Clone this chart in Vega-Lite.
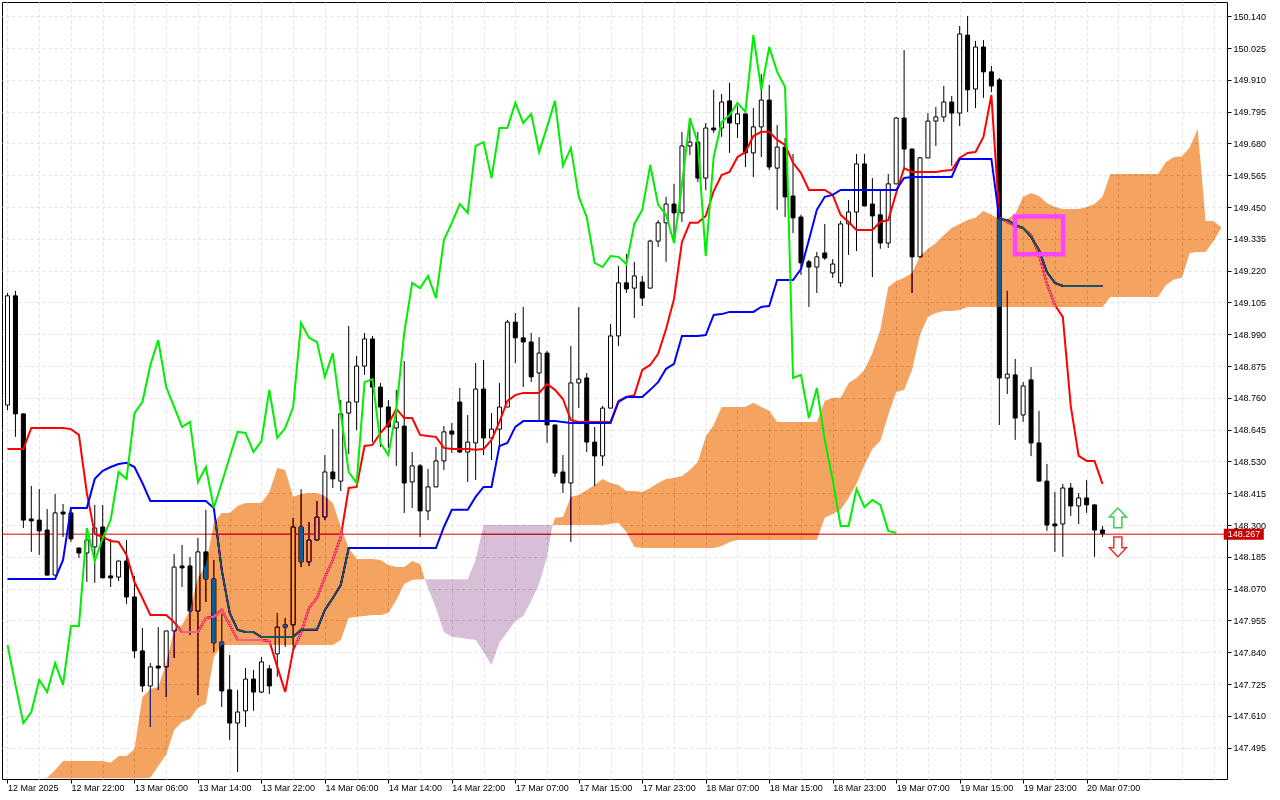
{
  "$schema": "https://vega.github.io/schema/vega-lite/v6.json",
  "width": 1225,
  "height": 777,
  "autosize": {"type": "none"},
  "padding": {"left": 2, "top": 2, "right": 53, "bottom": 21},
  "background": "white",
  "config": {
    "view": {"stroke": "#000000", "strokeWidth": 1, "fill": "white"},
    "axis": {
      "labelFont": "Liberation Sans",
      "labelFontSize": 9,
      "labelColor": "#000000",
      "tickColor": "#000000",
      "domain": false,
      "grid": true,
      "gridDash": [3, 3],
      "gridColor": "#e2e2e2",
      "gridWidth": 1,
      "labelOverlap": false,
      "labelBound": false,
      "labelFlush": false
    }
  },
  "datasets": {
    "bid": [{"price": 148.267}],
    "candles": [
      {"k":0,"o":148.734,"h":149.139,"l":148.716,"c":149.129},
      {"k":1,"o":149.129,"h":149.147,"l":148.619,"c":148.702},
      {"k":2,"o":148.702,"h":148.703,"l":148.289,"c":148.318},
      {"k":3,"o":148.322,"h":148.441,"l":148.203,"c":148.315},
      {"k":4,"o":148.318,"h":148.430,"l":148.192,"c":148.279},
      {"k":5,"o":148.282,"h":148.358,"l":148.118,"c":148.119},
      {"k":6,"o":148.119,"h":148.412,"l":148.118,"c":148.344},
      {"k":7,"o":148.347,"h":148.376,"l":148.257,"c":148.340},
      {"k":8,"o":148.344,"h":148.355,"l":148.239,"c":148.250},
      {"k":9,"o":148.217,"h":148.218,"l":148.181,"c":148.199},
      {"k":10,"o":148.199,"h":148.289,"l":148.094,"c":148.246},
      {"k":11,"o":148.221,"h":148.373,"l":148.091,"c":148.289},
      {"k":12,"o":148.293,"h":148.373,"l":148.108,"c":148.109},
      {"k":13,"o":148.116,"h":148.250,"l":148.076,"c":148.109},
      {"k":14,"o":148.112,"h":148.171,"l":148.098,"c":148.170},
      {"k":15,"o":148.170,"h":148.246,"l":148.015,"c":148.040},
      {"k":16,"o":148.040,"h":148.116,"l":147.819,"c":147.845},
      {"k":17,"o":147.845,"h":147.928,"l":147.696,"c":147.718},
      {"k":18,"o":147.718,"h":147.801,"l":147.570,"c":147.787},
      {"k":19,"o":147.790,"h":147.931,"l":147.704,"c":147.783},
      {"k":20,"o":147.787,"h":147.918,"l":147.678,"c":147.917},
      {"k":21,"o":147.917,"h":148.195,"l":147.819,"c":148.148},
      {"k":22,"o":148.152,"h":148.228,"l":148.076,"c":148.145},
      {"k":23,"o":148.152,"h":148.185,"l":147.902,"c":147.989},
      {"k":24,"o":147.989,"h":148.253,"l":147.685,"c":148.203},
      {"k":25,"o":148.203,"h":148.355,"l":148.022,"c":148.105},
      {"k":26,"o":148.105,"h":148.174,"l":147.841,"c":147.874},
      {"k":27,"o":147.877,"h":147.978,"l":147.642,"c":147.700},
      {"k":28,"o":147.704,"h":147.830,"l":147.523,"c":147.584},
      {"k":29,"o":147.584,"h":147.704,"l":147.407,"c":147.624},
      {"k":30,"o":147.628,"h":147.783,"l":147.570,"c":147.743},
      {"k":31,"o":147.743,"h":147.776,"l":147.628,"c":147.696},
      {"k":32,"o":147.696,"h":147.823,"l":147.693,"c":147.805},
      {"k":33,"o":147.780,"h":147.794,"l":147.689,"c":147.718},
      {"k":34,"o":147.834,"h":147.982,"l":147.751,"c":147.931},
      {"k":35,"o":147.939,"h":147.964,"l":147.859,"c":147.931},
      {"k":36,"o":147.939,"h":148.326,"l":147.848,"c":148.293},
      {"k":37,"o":148.293,"h":148.430,"l":148.148,"c":148.167},
      {"k":38,"o":148.167,"h":148.311,"l":148.152,"c":148.246},
      {"k":39,"o":148.246,"h":148.387,"l":148.245,"c":148.329},
      {"k":40,"o":148.329,"h":148.553,"l":148.318,"c":148.492},
      {"k":41,"o":148.492,"h":148.647,"l":148.434,"c":148.467},
      {"k":42,"o":148.459,"h":148.752,"l":148.423,"c":148.702},
      {"k":43,"o":148.705,"h":149.020,"l":148.557,"c":148.745},
      {"k":44,"o":148.745,"h":148.912,"l":148.644,"c":148.875},
      {"k":45,"o":148.875,"h":148.995,"l":148.843,"c":148.973},
      {"k":46,"o":148.973,"h":148.984,"l":148.600,"c":148.799},
      {"k":47,"o":148.799,"h":148.814,"l":148.582,"c":148.727},
      {"k":48,"o":148.727,"h":148.752,"l":148.579,"c":148.655},
      {"k":49,"o":148.651,"h":148.789,"l":148.514,"c":148.673},
      {"k":50,"o":148.658,"h":148.893,"l":148.344,"c":148.452},
      {"k":51,"o":148.456,"h":148.564,"l":148.362,"c":148.514},
      {"k":52,"o":148.514,"h":148.521,"l":148.257,"c":148.351},
      {"k":53,"o":148.351,"h":148.503,"l":148.318,"c":148.438},
      {"k":54,"o":148.438,"h":148.582,"l":148.437,"c":148.532},
      {"k":55,"o":148.532,"h":148.658,"l":148.499,"c":148.637},
      {"k":56,"o":148.640,"h":148.669,"l":148.561,"c":148.629},
      {"k":57,"o":148.745,"h":148.796,"l":148.563,"c":148.564},
      {"k":58,"o":148.564,"h":148.698,"l":148.456,"c":148.600},
      {"k":59,"o":148.597,"h":148.886,"l":148.463,"c":148.792},
      {"k":60,"o":148.792,"h":148.897,"l":148.553,"c":148.615},
      {"k":61,"o":148.615,"h":148.705,"l":148.535,"c":148.647},
      {"k":62,"o":148.647,"h":148.814,"l":148.582,"c":148.727},
      {"k":63,"o":148.727,"h":149.042,"l":148.726,"c":149.034},
      {"k":64,"o":149.034,"h":149.067,"l":148.886,"c":148.977},
      {"k":65,"o":148.977,"h":149.089,"l":148.799,"c":148.962},
      {"k":66,"o":148.962,"h":148.995,"l":148.817,"c":148.836},
      {"k":67,"o":148.850,"h":148.980,"l":148.673,"c":148.922},
      {"k":68,"o":148.922,"h":148.930,"l":148.597,"c":148.662},
      {"k":69,"o":148.662,"h":148.663,"l":148.474,"c":148.488},
      {"k":70,"o":148.492,"h":148.553,"l":148.416,"c":148.452},
      {"k":71,"o":148.452,"h":148.948,"l":148.239,"c":148.814},
      {"k":72,"o":148.814,"h":149.089,"l":148.723,"c":148.828},
      {"k":73,"o":148.832,"h":148.850,"l":148.564,"c":148.600},
      {"k":74,"o":148.600,"h":148.655,"l":148.441,"c":148.550},
      {"k":75,"o":148.550,"h":148.731,"l":148.514,"c":148.723},
      {"k":76,"o":148.723,"h":149.027,"l":148.722,"c":148.984},
      {"k":77,"o":148.984,"h":149.237,"l":148.948,"c":149.176},
      {"k":78,"o":149.176,"h":149.280,"l":149.139,"c":149.154},
      {"k":79,"o":149.157,"h":149.252,"l":149.049,"c":149.201},
      {"k":80,"o":149.179,"h":149.201,"l":149.092,"c":149.121},
      {"k":81,"o":149.157,"h":149.331,"l":149.156,"c":149.327},
      {"k":82,"o":149.327,"h":149.403,"l":149.306,"c":149.393},
      {"k":83,"o":149.393,"h":149.487,"l":149.252,"c":149.461},
      {"k":84,"o":149.461,"h":149.534,"l":149.320,"c":149.429},
      {"k":85,"o":149.429,"h":149.722,"l":149.396,"c":149.671},
      {"k":86,"o":149.671,"h":149.772,"l":149.638,"c":149.685},
      {"k":87,"o":149.685,"h":149.722,"l":149.541,"c":149.555},
      {"k":88,"o":149.555,"h":149.754,"l":149.512,"c":149.736},
      {"k":89,"o":149.736,"h":149.874,"l":149.718,"c":149.729},
      {"k":90,"o":149.736,"h":149.859,"l":149.704,"c":149.830},
      {"k":91,"o":149.834,"h":149.899,"l":149.646,"c":149.754},
      {"k":92,"o":149.751,"h":149.816,"l":149.700,"c":149.787},
      {"k":93,"o":149.787,"h":149.788,"l":149.595,"c":149.646},
      {"k":94,"o":149.646,"h":149.808,"l":149.559,"c":149.740},
      {"k":95,"o":149.740,"h":149.931,"l":149.631,"c":149.837},
      {"k":96,"o":149.837,"h":149.892,"l":149.584,"c":149.595},
      {"k":97,"o":149.591,"h":149.747,"l":149.440,"c":149.667},
      {"k":98,"o":149.667,"h":149.700,"l":149.414,"c":149.487},
      {"k":99,"o":149.490,"h":149.642,"l":149.356,"c":149.411},
      {"k":100,"o":149.414,"h":149.422,"l":149.205,"c":149.248},
      {"k":101,"o":149.252,"h":149.259,"l":149.089,"c":149.233},
      {"k":102,"o":149.233,"h":149.288,"l":149.139,"c":149.270},
      {"k":103,"o":149.284,"h":149.389,"l":149.259,"c":149.266},
      {"k":104,"o":149.212,"h":149.262,"l":149.194,"c":149.244},
      {"k":105,"o":149.176,"h":149.400,"l":149.161,"c":149.389},
      {"k":106,"o":149.389,"h":149.476,"l":149.277,"c":149.432},
      {"k":107,"o":149.432,"h":149.642,"l":149.291,"c":149.606},
      {"k":108,"o":149.606,"h":149.642,"l":149.453,"c":149.454},
      {"k":109,"o":149.461,"h":149.555,"l":149.197,"c":149.418},
      {"k":110,"o":149.422,"h":149.512,"l":149.299,"c":149.320},
      {"k":111,"o":149.320,"h":149.570,"l":149.302,"c":149.534},
      {"k":112,"o":149.534,"h":149.776,"l":149.533,"c":149.772},
      {"k":113,"o":149.772,"h":150.018,"l":149.584,"c":149.660},
      {"k":114,"o":149.660,"h":149.661,"l":149.139,"c":149.270},
      {"k":115,"o":149.270,"h":149.631,"l":149.269,"c":149.628},
      {"k":116,"o":149.628,"h":149.790,"l":149.627,"c":149.761},
      {"k":117,"o":149.761,"h":149.812,"l":149.671,"c":149.776},
      {"k":118,"o":149.776,"h":149.888,"l":149.758,"c":149.830},
      {"k":119,"o":149.830,"h":149.852,"l":149.599,"c":149.790},
      {"k":120,"o":149.790,"h":150.105,"l":149.743,"c":150.076},
      {"k":121,"o":150.072,"h":150.141,"l":149.794,"c":149.874},
      {"k":122,"o":149.877,"h":150.051,"l":149.808,"c":150.029},
      {"k":123,"o":150.029,"h":150.054,"l":149.845,"c":149.939},
      {"k":124,"o":149.939,"h":149.960,"l":149.866,"c":149.888},
      {"k":125,"o":149.910,"h":149.917,"l":148.662,"c":148.832},
      {"k":126,"o":148.832,"h":149.147,"l":148.774,"c":148.846},
      {"k":127,"o":148.843,"h":148.901,"l":148.608,"c":148.687},
      {"k":128,"o":148.698,"h":148.817,"l":148.673,"c":148.803},
      {"k":129,"o":148.825,"h":148.872,"l":148.550,"c":148.597},
      {"k":130,"o":148.597,"h":148.713,"l":148.458,"c":148.459},
      {"k":131,"o":148.459,"h":148.521,"l":148.279,"c":148.300},
      {"k":132,"o":148.304,"h":148.420,"l":148.203,"c":148.297},
      {"k":133,"o":148.304,"h":148.449,"l":148.185,"c":148.434},
      {"k":134,"o":148.434,"h":148.452,"l":148.333,"c":148.369},
      {"k":135,"o":148.369,"h":148.416,"l":148.304,"c":148.398},
      {"k":136,"o":148.398,"h":148.463,"l":148.344,"c":148.373},
      {"k":137,"o":148.373,"h":148.374,"l":148.185,"c":148.282},
      {"k":138,"o":148.282,"h":148.297,"l":148.257,"c":148.270}
    ],
    "ichi": [
      {"k":0,"t":148.575,"j":148.105},{"k":1,"t":148.575,"j":148.105},{"k":2,"t":148.575,"j":148.105},
      {"k":3,"t":148.651,"j":148.105},{"k":4,"t":148.651,"j":148.105},{"k":5,"t":148.651,"j":148.105},
      {"k":6,"t":148.651,"j":148.105},{"k":7,"t":148.651,"j":148.174},{"k":8,"t":148.647,"j":148.362},
      {"k":9,"t":148.626,"j":148.362},{"k":10,"t":148.416,"j":148.362},{"k":11,"t":148.268,"j":148.467},
      {"k":12,"t":148.257,"j":148.496},{"k":13,"t":148.242,"j":148.510},{"k":14,"t":148.239,"j":148.521},
      {"k":15,"t":148.192,"j":148.525},{"k":16,"t":148.094,"j":148.510},{"k":17,"t":148.036,"j":148.452},
      {"k":18,"t":147.975,"j":148.387},{"k":19,"t":147.975,"j":148.387},{"k":20,"t":147.975,"j":148.387},
      {"k":21,"t":147.949,"j":148.387},{"k":22,"t":147.913,"j":148.387},{"k":23,"t":147.913,"j":148.387},
      {"k":24,"t":147.913,"j":148.387},{"k":25,"t":147.964,"j":148.387},{"k":26,"t":147.968,"j":148.362},
      {"k":27,"t":147.993,"j":148.138},{"k":28,"t":147.939,"j":147.982},{"k":29,"t":147.884,"j":147.921},
      {"k":30,"t":147.884,"j":147.913},{"k":31,"t":147.884,"j":147.913},{"k":32,"t":147.884,"j":147.895},
      {"k":33,"t":147.881,"j":147.895},{"k":34,"t":147.787,"j":147.895},{"k":35,"t":147.696,"j":147.895},
      {"k":36,"t":147.848,"j":147.895},{"k":37,"t":147.910,"j":147.921},{"k":38,"t":148.000,"j":147.921},
      {"k":39,"t":148.036,"j":147.921},{"k":40,"t":148.112,"j":147.993},{"k":41,"t":148.174,"j":148.036},
      {"k":42,"t":148.257,"j":148.083},{"k":43,"t":148.434,"j":148.217},{"k":44,"t":148.438,"j":148.217},
      {"k":45,"t":148.586,"j":148.217},{"k":46,"t":148.590,"j":148.217},{"k":47,"t":148.633,"j":148.217},
      {"k":48,"t":148.666,"j":148.217},{"k":49,"t":148.720,"j":148.217},{"k":50,"t":148.687,"j":148.217},
      {"k":51,"t":148.687,"j":148.217},{"k":52,"t":148.626,"j":148.217},{"k":53,"t":148.622,"j":148.217},
      {"k":54,"t":148.619,"j":148.217},{"k":55,"t":148.579,"j":148.293},{"k":56,"t":148.575,"j":148.355},
      {"k":57,"t":148.575,"j":148.355},{"k":58,"t":148.575,"j":148.355},{"k":59,"t":148.572,"j":148.402},
      {"k":60,"t":148.575,"j":148.438},{"k":61,"t":148.608,"j":148.438},{"k":62,"t":148.673,"j":148.586},
      {"k":63,"t":148.749,"j":148.597},{"k":64,"t":148.770,"j":148.655},{"k":65,"t":148.778,"j":148.676},
      {"k":66,"t":148.778,"j":148.676},{"k":67,"t":148.778,"j":148.676},{"k":68,"t":148.810,"j":148.676},
      {"k":69,"t":148.789,"j":148.676},{"k":70,"t":148.756,"j":148.673},{"k":71,"t":148.680,"j":148.669},
      {"k":72,"t":148.673,"j":148.669},{"k":73,"t":148.673,"j":148.669},{"k":74,"t":148.673,"j":148.669},
      {"k":75,"t":148.673,"j":148.669},{"k":76,"t":148.673,"j":148.669},{"k":77,"t":148.749,"j":148.745},
      {"k":78,"t":148.763,"j":148.763},{"k":79,"t":148.770,"j":148.763},{"k":80,"t":148.861,"j":148.763},
      {"k":81,"t":148.879,"j":148.789},{"k":82,"t":148.919,"j":148.817},{"k":83,"t":149.009,"j":148.865},
      {"k":84,"t":149.118,"j":148.883},{"k":85,"t":149.324,"j":148.984},{"k":86,"t":149.393,"j":148.984},
      {"k":87,"t":149.393,"j":148.984},{"k":88,"t":149.418,"j":148.987},{"k":89,"t":149.508,"j":149.060},
      {"k":90,"t":149.566,"j":149.063},{"k":91,"t":149.577,"j":149.071},{"k":92,"t":149.631,"j":149.071},
      {"k":93,"t":149.649,"j":149.071},{"k":94,"t":149.707,"j":149.071},{"k":95,"t":149.722,"j":149.089},
      {"k":96,"t":149.722,"j":149.092},{"k":97,"t":149.693,"j":149.186},{"k":98,"t":149.675,"j":149.186},
      {"k":99,"t":149.610,"j":149.186},{"k":100,"t":149.573,"j":149.226},{"k":101,"t":149.512,"j":149.331},
      {"k":102,"t":149.512,"j":149.440},{"k":103,"t":149.512,"j":149.487},{"k":104,"t":149.494,"j":149.494},
      {"k":105,"t":149.422,"j":149.512},{"k":106,"t":149.396,"j":149.512},{"k":107,"t":149.367,"j":149.512},
      {"k":108,"t":149.367,"j":149.512},{"k":109,"t":149.367,"j":149.512},{"k":110,"t":149.396,"j":149.512},
      {"k":111,"t":149.403,"j":149.512},{"k":112,"t":149.501,"j":149.512},{"k":113,"t":149.591,"j":149.555},
      {"k":114,"t":149.577,"j":149.559},{"k":115,"t":149.577,"j":149.559},{"k":116,"t":149.577,"j":149.559},
      {"k":117,"t":149.577,"j":149.559},{"k":118,"t":149.581,"j":149.559},{"k":119,"t":149.584,"j":149.559},
      {"k":120,"t":149.628,"j":149.624},{"k":121,"t":149.646,"j":149.624},{"k":122,"t":149.649,"j":149.624},
      {"k":123,"t":149.704,"j":149.624},{"k":124,"t":149.855,"j":149.624},{"k":125,"t":149.414,"j":149.407},
      {"k":126,"t":149.396,"j":149.403},{"k":127,"t":149.382,"j":149.385},{"k":128,"t":149.374,"j":149.374},
      {"k":129,"t":149.349,"j":149.342},{"k":130,"t":149.277,"j":149.295},{"k":131,"t":149.172,"j":149.215},
      {"k":132,"t":149.096,"j":149.176},{"k":133,"t":149.053,"j":149.165},{"k":134,"t":148.731,"j":149.165},
      {"k":135,"t":148.550,"j":149.165},{"k":136,"t":148.532,"j":149.165},{"k":137,"t":148.532,"j":149.165},
      {"k":138,"t":148.449,"j":149.165}
    ],
    "chikou": [
      {"k":0,"v":147.866},{"k":1,"v":147.722},{"k":2,"v":147.584},{"k":3,"v":147.624},{"k":4,"v":147.740},
      {"k":5,"v":147.696},{"k":6,"v":147.801},{"k":7,"v":147.722},{"k":8,"v":147.935},{"k":9,"v":147.935},
      {"k":10,"v":148.289},{"k":11,"v":148.170},{"k":12,"v":148.253},{"k":13,"v":148.318},{"k":14,"v":148.492},
      {"k":15,"v":148.467},{"k":16,"v":148.705},{"k":17,"v":148.745},{"k":18,"v":148.879},{"k":19,"v":148.969},
      {"k":20,"v":148.799},{"k":21,"v":148.727},{"k":22,"v":148.655},{"k":23,"v":148.673},{"k":24,"v":148.456},
      {"k":25,"v":148.510},{"k":26,"v":148.362},{"k":27,"v":148.452},{"k":28,"v":148.546},{"k":29,"v":148.637},
      {"k":30,"v":148.633},{"k":31,"v":148.564},{"k":32,"v":148.604},{"k":33,"v":148.789},{"k":34,"v":148.615},
      {"k":35,"v":148.651},{"k":36,"v":148.727},{"k":37,"v":149.031},{"k":38,"v":148.977},{"k":39,"v":148.962},
      {"k":40,"v":148.836},{"k":41,"v":148.922},{"k":42,"v":148.705},{"k":43,"v":148.492},{"k":44,"v":148.452},
      {"k":45,"v":148.817},{"k":46,"v":148.828},{"k":47,"v":148.597},{"k":48,"v":148.553},{"k":49,"v":148.716},
      {"k":50,"v":148.995},{"k":51,"v":149.176},{"k":52,"v":149.157},{"k":53,"v":149.201},{"k":54,"v":149.121},
      {"k":55,"v":149.331},{"k":56,"v":149.393},{"k":57,"v":149.461},{"k":58,"v":149.429},{"k":59,"v":149.671},
      {"k":60,"v":149.685},{"k":61,"v":149.555},{"k":62,"v":149.736},{"k":63,"v":149.736},{"k":64,"v":149.827},
      {"k":65,"v":149.754},{"k":66,"v":149.787},{"k":67,"v":149.649},{"k":68,"v":149.740},{"k":69,"v":149.834},
      {"k":70,"v":149.599},{"k":71,"v":149.664},{"k":72,"v":149.487},{"k":73,"v":149.414},{"k":74,"v":149.248},
      {"k":75,"v":149.233},{"k":76,"v":149.273},{"k":77,"v":149.270},{"k":78,"v":149.244},{"k":79,"v":149.389},
      {"k":80,"v":149.440},{"k":81,"v":149.602},{"k":82,"v":149.458},{"k":83,"v":149.422},{"k":84,"v":149.320},
      {"k":85,"v":149.530},{"k":86,"v":149.772},{"k":87,"v":149.682},{"k":88,"v":149.273},{"k":89,"v":149.631},
      {"k":90,"v":149.758},{"k":91,"v":149.783},{"k":92,"v":149.827},{"k":93,"v":149.794},{"k":94,"v":150.072},
      {"k":95,"v":149.874},{"k":96,"v":150.029},{"k":97,"v":149.939},{"k":98,"v":149.884},{"k":99,"v":148.832},
      {"k":100,"v":148.843},{"k":101,"v":148.687},{"k":102,"v":148.796},{"k":103,"v":148.608},{"k":104,"v":148.463},
      {"k":105,"v":148.297},{"k":106,"v":148.297},{"k":107,"v":148.430},{"k":108,"v":148.365},{"k":109,"v":148.391},
      {"k":110,"v":148.373},{"k":111,"v":148.279},{"k":112,"v":148.271}
    ],
    "cloud": [
      {"k":0,"a":147.384,"b":147.384},{"k":1,"a":147.384,"b":147.384},{"k":2,"a":147.384,"b":147.384},
      {"k":3,"a":147.384,"b":147.384},{"k":4,"a":147.384,"b":147.384},{"k":5,"a":147.386,"b":147.384},
      {"k":6,"a":147.414,"b":147.384},{"k":7,"a":147.447,"b":147.384},{"k":8,"a":147.447,"b":147.384},
      {"k":9,"a":147.447,"b":147.384},{"k":10,"a":147.447,"b":147.384},{"k":11,"a":147.447,"b":147.384},
      {"k":12,"a":147.447,"b":147.384},{"k":13,"a":147.440,"b":147.384},{"k":14,"a":147.465,"b":147.384},
      {"k":15,"a":147.465,"b":147.384},{"k":16,"a":147.490,"b":147.384},{"k":17,"a":147.678,"b":147.384},
      {"k":18,"a":147.707,"b":147.386},{"k":19,"a":147.714,"b":147.429},{"k":20,"a":147.801,"b":147.469},
      {"k":21,"a":147.921,"b":147.559},{"k":22,"a":147.939,"b":147.588},{"k":23,"a":147.993,"b":147.599},
      {"k":24,"a":148.109,"b":147.639},{"k":25,"a":148.156,"b":147.653},{"k":26,"a":148.308,"b":147.823},
      {"k":27,"a":148.344,"b":147.866},{"k":28,"a":148.344,"b":147.866},{"k":29,"a":148.369,"b":147.866},
      {"k":30,"a":148.380,"b":147.866},{"k":31,"a":148.380,"b":147.866},{"k":32,"a":148.380,"b":147.866},
      {"k":33,"a":148.420,"b":147.866},{"k":34,"a":148.506,"b":147.866},{"k":35,"a":148.499,"b":147.866},
      {"k":36,"a":148.402,"b":147.866},{"k":37,"a":148.412,"b":147.866},{"k":38,"a":148.416,"b":147.866},
      {"k":39,"a":148.416,"b":147.866},{"k":40,"a":148.405,"b":147.866},{"k":41,"a":148.380,"b":147.866},
      {"k":42,"a":148.293,"b":147.884},{"k":43,"a":148.217,"b":147.964},{"k":44,"a":148.177,"b":147.968},
      {"k":45,"a":148.177,"b":147.971},{"k":46,"a":148.177,"b":147.975},{"k":47,"a":148.174,"b":147.975},
      {"k":48,"a":148.156,"b":147.982},{"k":49,"a":148.148,"b":148.029},{"k":50,"a":148.148,"b":148.087},
      {"k":51,"a":148.170,"b":148.101},{"k":52,"a":148.159,"b":148.104},{"k":52.6,"a":148.104,"b":148.104},
      {"k":53,"a":148.072,"b":148.104},{"k":54,"a":148.000,"b":148.104},{"k":55,"a":147.913,"b":148.104},
      {"k":56,"a":147.895,"b":148.104},{"k":57,"a":147.892,"b":148.104},{"k":58,"a":147.888,"b":148.104},
      {"k":59,"a":147.884,"b":148.174},{"k":60,"a":147.841,"b":148.300},{"k":61,"a":147.794,"b":148.300},
      {"k":62,"a":147.874,"b":148.300},{"k":63,"a":147.913,"b":148.300},{"k":64,"a":147.953,"b":148.300},
      {"k":65,"a":147.971,"b":148.300},{"k":66,"a":148.025,"b":148.300},{"k":67,"a":148.087,"b":148.300},
      {"k":68,"a":148.185,"b":148.300},{"k":68.7,"a":148.300,"b":148.300},
      {"k":69,"a":148.326,"b":148.300},{"k":70,"a":148.329,"b":148.300},{"k":71,"a":148.402,"b":148.300},
      {"k":72,"a":148.409,"b":148.300},{"k":73,"a":148.427,"b":148.300},{"k":74,"a":148.445,"b":148.300},
      {"k":75,"a":148.467,"b":148.300},{"k":76,"a":148.452,"b":148.304},{"k":77,"a":148.445,"b":148.308},
      {"k":78,"a":148.423,"b":148.275},{"k":79,"a":148.423,"b":148.221},{"k":80,"a":148.420,"b":148.217},
      {"k":81,"a":148.434,"b":148.217},{"k":82,"a":148.452,"b":148.217},{"k":83,"a":148.467,"b":148.217},
      {"k":84,"a":148.470,"b":148.217},{"k":85,"a":148.477,"b":148.217},{"k":86,"a":148.499,"b":148.217},
      {"k":87,"a":148.528,"b":148.217},{"k":88,"a":148.619,"b":148.217},{"k":89,"a":148.662,"b":148.217},
      {"k":90,"a":148.727,"b":148.224},{"k":91,"a":148.727,"b":148.239},{"k":92,"a":148.727,"b":148.246},
      {"k":93,"a":148.727,"b":148.246},{"k":94,"a":148.742,"b":148.246},{"k":95,"a":148.727,"b":148.246},
      {"k":96,"a":148.713,"b":148.246},{"k":97,"a":148.673,"b":148.246},{"k":98,"a":148.673,"b":148.246},
      {"k":99,"a":148.673,"b":148.246},{"k":100,"a":148.673,"b":148.246},{"k":101,"a":148.673,"b":148.246},
      {"k":102,"a":148.673,"b":148.246},{"k":103,"a":148.749,"b":148.326},{"k":104,"a":148.760,"b":148.340},
      {"k":105,"a":148.760,"b":148.355},{"k":106,"a":148.814,"b":148.398},{"k":107,"a":148.832,"b":148.449},
      {"k":108,"a":148.861,"b":148.517},{"k":109,"a":148.922,"b":148.575},{"k":110,"a":149.006,"b":148.604},
      {"k":111,"a":149.161,"b":148.698},{"k":112,"a":149.183,"b":148.781},{"k":113,"a":149.194,"b":148.789},
      {"k":114,"a":149.212,"b":148.861},{"k":115,"a":149.273,"b":148.987},{"k":116,"a":149.299,"b":149.053},
      {"k":117,"a":149.320,"b":149.067},{"k":118,"a":149.349,"b":149.074},{"k":119,"a":149.374,"b":149.074},
      {"k":120,"a":149.389,"b":149.078},{"k":121,"a":149.403,"b":149.089},{"k":122,"a":149.411,"b":149.089},
      {"k":123,"a":149.436,"b":149.089},{"k":124,"a":149.422,"b":149.089},{"k":125,"a":149.407,"b":149.089},
      {"k":126,"a":149.407,"b":149.089},{"k":127,"a":149.425,"b":149.089},{"k":128,"a":149.487,"b":149.089},
      {"k":129,"a":149.501,"b":149.089},{"k":130,"a":149.490,"b":149.089},{"k":131,"a":149.465,"b":149.089},
      {"k":132,"a":149.450,"b":149.089},{"k":133,"a":149.443,"b":149.089},{"k":134,"a":149.443,"b":149.089},
      {"k":135,"a":149.443,"b":149.089},{"k":136,"a":149.450,"b":149.089},{"k":137,"a":149.461,"b":149.089},
      {"k":138,"a":149.487,"b":149.089},{"k":139,"a":149.570,"b":149.125},{"k":140,"a":149.570,"b":149.125},
      {"k":141,"a":149.570,"b":149.125},{"k":142,"a":149.570,"b":149.125},{"k":143,"a":149.570,"b":149.125},
      {"k":144,"a":149.570,"b":149.125},{"k":145,"a":149.570,"b":149.125},{"k":146,"a":149.613,"b":149.168},
      {"k":147,"a":149.631,"b":149.188},{"k":148,"a":149.633,"b":149.194},{"k":149,"a":149.666,"b":149.284},
      {"k":150,"a":149.732,"b":149.288},{"k":151,"a":149.400,"b":149.288},{"k":152,"a":149.400,"b":149.327},
      {"k":153,"a":149.376,"b":149.376}
    ],
    "box": [{"k1": 126.97, "k2": 133.03, "p1": 149.4155, "p2": 149.2795}],
    "arrows": [
      {"k": 139.94, "price": 148.326, "dir": "up"},
      {"k": 139.94, "price": 148.221, "dir": "down"}
    ],
    "tag": [{"k": 155.81, "kt": 153.78, "price": 148.267}]
  },
  "layer": [
    {
      "data": {"name": "bid"},
      "mark": {"type": "rule", "color": "#dd0000", "strokeWidth": 1},
      "encoding": {
        "y": {
          "field": "price",
          "type": "quantitative",
          "title": null,
          "scale": {"domain": [147.3816, 150.1917], "nice": false, "zero": false},
          "axis": {
            "orient": "right",
            "values": [147.495,147.61,147.725,147.84,147.955,148.07,148.185,148.3,148.415,148.53,148.645,148.76,148.875,148.99,149.105,149.22,149.335,149.45,149.565,149.68,149.795,149.91,150.025,150.14],
            "tickCount": 200,
            "format": ".3f",
            "tickSize": 4,
            "labelPadding": 2,
            "labelOverlap": false,
            "labelBound": false,
            "labelFlush": false
          }
        }
      }
    },
    {
      "data": {"name": "candles"},
      "mark": {"type": "rule", "color": "#000000", "strokeWidth": 1},
      "encoding": {
        "x": {
          "field": "k",
          "type": "quantitative",
          "title": null,
          "scale": {"domain": [-0.0625, 153.0625], "nice": false, "zero": false},
          "axis": {
            "orient": "bottom",
            "values": [0,4,8,12,16,20,24,28,32,36,40,44,48,52,56,60,64,68,72,76,80,84,88,92,96,100,104,108,112,116,120,124,128,132,136,140,144,148,152],
            "tickCount": 200,
            "labelExpr": "(datum.value % 8 == 0 && datum.value <= 136) ? ['12 Mar 2025','12 Mar 22:00','13 Mar 06:00','13 Mar 14:00','13 Mar 22:00','14 Mar 06:00','14 Mar 14:00','14 Mar 22:00','17 Mar 07:00','17 Mar 15:00','17 Mar 23:00','18 Mar 07:00','18 Mar 15:00','18 Mar 23:00','19 Mar 07:00','19 Mar 15:00','19 Mar 23:00','20 Mar 07:00'][datum.value / 8] : ''",
            "labelAlign": "left",
            "labelBaseline": "top",
            "labelDx": 0,
            "labelPadding": 0,
            "labelOverlap": false,
            "labelBound": false,
            "labelFlush": false,
            "tickSize": 4,
            "tickOpacity": {"condition": {"test": "datum.value % 8 == 0 && datum.value <= 136", "value": 1}, "value": 0}
          }
        },
        "y": {"field": "h", "type": "quantitative", "title": null},
        "y2": {"field": "l"}
      }
    },
    {
      "data": {"name": "candles"},
      "mark": {"type": "bar", "size": 4, "stroke": "#000000", "strokeWidth": 1},
      "encoding": {
        "x": {"field": "k", "type": "quantitative", "title": null},
        "y": {"field": "o", "type": "quantitative", "title": null},
        "y2": {"field": "c"},
        "fill": {"condition": {"test": "datum.c > datum.o", "value": "#ffffff"}, "value": "#000000"}
      }
    },
    {
      "data": {"name": "ichi"},
      "mark": {"type": "line", "color": "#ff0000", "strokeWidth": 2},
      "encoding": {
        "x": {"field": "k", "type": "quantitative", "title": null},
        "y": {"field": "t", "type": "quantitative", "title": null}
      }
    },
    {
      "data": {"name": "ichi"},
      "mark": {"type": "line", "color": "#0000ff", "strokeWidth": 2},
      "encoding": {
        "x": {"field": "k", "type": "quantitative", "title": null},
        "y": {"field": "j", "type": "quantitative", "title": null}
      }
    },
    {
      "data": {"name": "cloud"},
      "transform": [{"filter": {"field": "k", "range": [0, 52.6]}}],
      "mark": {"type": "area", "color": "#0b5b9f", "blend": "difference"},
      "encoding": {
        "x": {"field": "k", "type": "quantitative", "title": null},
        "y": {"field": "a", "type": "quantitative", "title": null},
        "y2": {"field": "b"}
      }
    },
    {
      "data": {"name": "cloud"},
      "transform": [{"filter": {"field": "k", "range": [52.6, 68.7]}}],
      "mark": {"type": "area", "color": "#274027", "blend": "difference"},
      "encoding": {
        "x": {"field": "k", "type": "quantitative", "title": null},
        "y": {"field": "a", "type": "quantitative", "title": null},
        "y2": {"field": "b"}
      }
    },
    {
      "data": {"name": "cloud"},
      "transform": [{"filter": {"field": "k", "range": [68.7, 153]}}],
      "mark": {"type": "area", "color": "#0b5b9f", "blend": "difference"},
      "encoding": {
        "x": {"field": "k", "type": "quantitative", "title": null},
        "y": {"field": "a", "type": "quantitative", "title": null},
        "y2": {"field": "b"}
      }
    },
    {
      "data": {"name": "chikou"},
      "mark": {"type": "line", "color": "#00ee00", "strokeWidth": 2},
      "encoding": {
        "x": {"field": "k", "type": "quantitative", "title": null},
        "y": {"field": "v", "type": "quantitative", "title": null}
      }
    },
    {
      "data": {"name": "box"},
      "mark": {"type": "rect", "filled": false, "stroke": "#ff44ff", "strokeWidth": 4.5},
      "encoding": {
        "x": {"field": "k1", "type": "quantitative", "title": null},
        "x2": {"field": "k2"},
        "y": {"field": "p1", "type": "quantitative", "title": null},
        "y2": {"field": "p2"}
      }
    },
    {
      "data": {"name": "arrows"},
      "mark": {"type": "point", "filled": true, "fill": "#ffffff", "size": 324, "strokeWidth": 1.5, "opacity": 1},
      "encoding": {
        "x": {"field": "k", "type": "quantitative", "title": null},
        "y": {"field": "price", "type": "quantitative", "title": null},
        "shape": {
          "field": "dir",
          "type": "nominal",
          "scale": {
            "domain": ["up", "down"],
            "range": [
              "M0,-1.1L0.95,-0.1L0.45,-0.1L0.45,1.1L-0.45,1.1L-0.45,-0.1L-0.95,-0.1Z",
              "M0,1.1L0.95,0.1L0.45,0.1L0.45,-1.1L-0.45,-1.1L-0.45,0.1L-0.95,0.1Z"
            ]
          },
          "legend": null
        },
        "stroke": {
          "field": "dir",
          "type": "nominal",
          "scale": {"domain": ["up", "down"], "range": ["#44cc55", "#ee3333"]},
          "legend": null
        }
      }
    },
    {
      "data": {"name": "tag"},
      "mark": {"type": "point", "filled": true, "color": "#c80000", "size": 400, "opacity": 1, "shape": "M-2,-0.55H2V0.55H-2Z"},
      "encoding": {
        "x": {"field": "k", "type": "quantitative", "title": null},
        "y": {"field": "price", "type": "quantitative", "title": null}
      }
    },
    {
      "data": {"name": "tag"},
      "mark": {"type": "text", "align": "left", "baseline": "middle", "color": "#ffffff", "font": "Liberation Sans", "fontSize": 9},
      "encoding": {
        "x": {"field": "kt", "type": "quantitative", "title": null},
        "y": {"field": "price", "type": "quantitative", "title": null},
        "text": {"field": "price", "type": "quantitative", "format": ".3f"}
      }
    }
  ]
}
